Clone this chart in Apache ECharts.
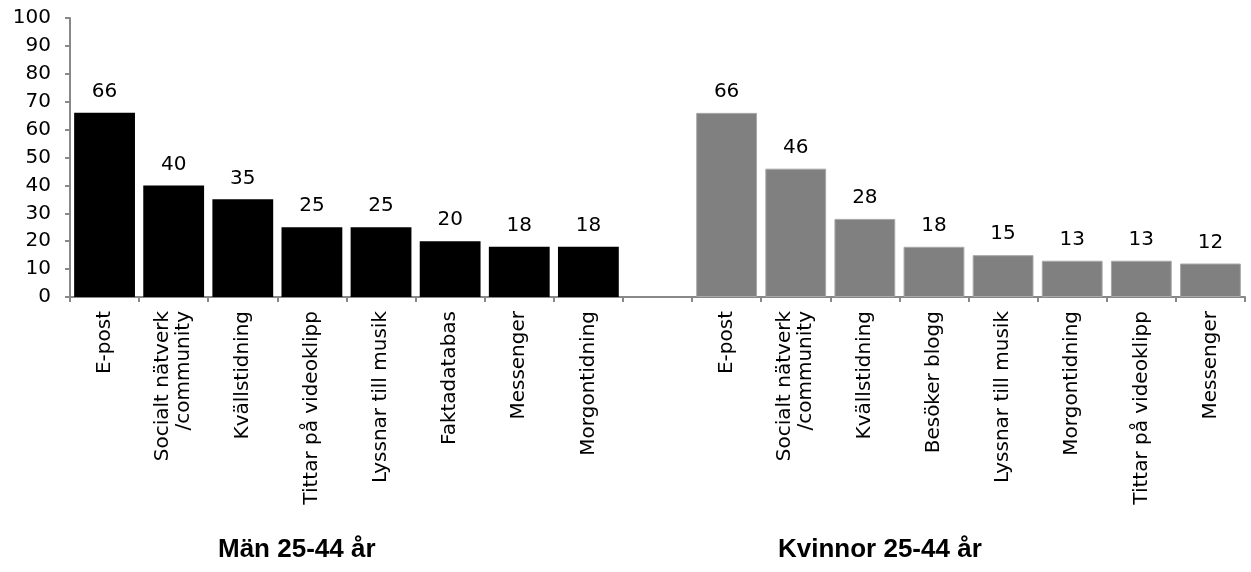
<!DOCTYPE html>
<html><head><meta charset="utf-8">
<script src="https://cdn.jsdelivr.net/npm/echarts@6/dist/echarts.min.js"></script>
<style>html,body{margin:0;padding:0;background:#fff}#c{width:1251px;height:572px}</style>
</head><body><div id="c"></div>
<script>
const menCategories = ['E-post','Socialt nätverk\n/community','Kvällstidning','Tittar på videoklipp','Lyssnar till musik','Faktadatabas','Messenger','Morgontidning'];
const womenCategories = ['E-post','Socialt nätverk\n/community','Kvällstidning','Besöker blogg','Lyssnar till musik','Morgontidning','Tittar på videoklipp','Messenger'];
const menValues = [66, 40, 35, 25, 25, 20, 18, 18];
const womenValues = [66, 46, 28, 18, 15, 13, 13, 12];
const groupLabels = ['Män 25-44 år', 'Kvinnor 25-44 år'];
const yTicks = [0,10,20,30,40,50,60,70,80,90,100];

const categories = menCategories.concat([''], womenCategories);
const gapCount = 1;
const menData = menValues.concat(new Array(gapCount + womenValues.length).fill(null));
const womenData = new Array(menValues.length + gapCount).fill(null).concat(womenValues);

const font = '"DejaVu Sans", Arial, sans-serif';
const boldFont = '"Liberation Sans", Arial, sans-serif';
const chart = echarts.init(document.getElementById('c'));
chart.setOption({
  animation: false,
  grid: {left: 70, right: 6, top: 18, bottom: 275, containLabel: false},
  xAxis: {
    type: 'category', data: categories,
    axisLine: {lineStyle: {color: '#888', width: 2}},
    axisTick: {show: true, length: 5, lineStyle: {color: '#888', width: 2}},
    axisLabel: {rotate: 90, interval: 0, fontSize: 20, color: '#000', fontFamily: font, margin: 14, lineHeight: 21, align: 'right', verticalAlign: 'middle'}
  },
  yAxis: {
    type: 'value', min: yTicks[0], max: yTicks[yTicks.length-1], interval: 10,
    splitLine: {show: false},
    axisLine: {show: true, lineStyle: {color: '#888', width: 2}},
    axisTick: {show: true, length: 5, lineStyle: {color: '#888', width: 2}},
    axisLabel: {fontSize: 20, color: '#000', fontFamily: font, margin: 19}
  },
  series: [
    {type: 'bar', stack: 's', data: menData, barCategoryGap: '12%',
     itemStyle: {color: '#000'},
     label: {show: true, position: 'top', distance: 11, fontSize: 20, color: '#000', fontFamily: font}},
    {type: 'bar', stack: 's', data: womenData, barCategoryGap: '12%',
     itemStyle: {color: '#808080', borderColor: '#a8a8a8', borderWidth: 1},
     label: {show: true, position: 'top', distance: 11, fontSize: 20, color: '#000', fontFamily: font}}
  ],
  graphic: [
    {type: 'text', left: 218, top: 537, style: {text: groupLabels[0], font: 'bold 26px ' + boldFont, fill: '#000'}},
    {type: 'text', left: 778, top: 537, style: {text: groupLabels[1], font: 'bold 26px ' + boldFont, fill: '#000'}}
  ]
});
</script></body></html>
